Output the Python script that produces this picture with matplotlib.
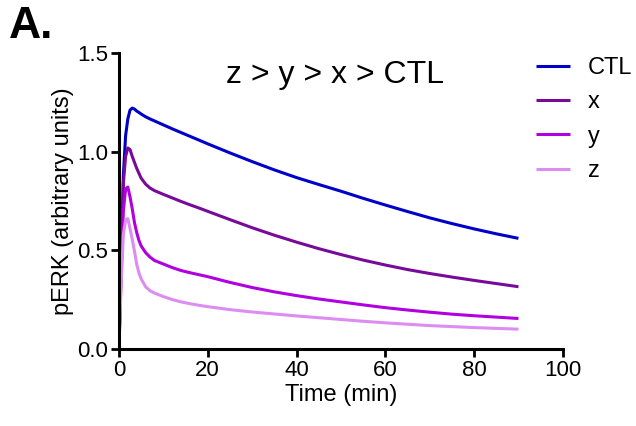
import matplotlib
matplotlib.use("Agg")
import matplotlib.pyplot as plt

plt.rcParams['font.family'] = ['Liberation Sans', 'DejaVu Sans']

time = [0, 0.5, 1, 1.5, 2, 2.5, 3, 3.5, 4, 4.5, 5, 6, 7, 8, 10, 12, 14, 16, 18, 20,
        25, 30, 35, 40, 45, 50, 55, 60, 65, 70, 75, 80, 85, 90]
ctl = [0, 0.45, 0.88, 1.08, 1.165, 1.21, 1.22, 1.215, 1.205, 1.198, 1.19, 1.176, 1.165,
       1.155, 1.135, 1.115, 1.096, 1.077, 1.058, 1.039,
       0.993, 0.949, 0.907, 0.868, 0.833, 0.799, 0.763, 0.729, 0.696, 0.664, 0.635, 0.608,
       0.583, 0.56]
x_vals = [0, 0.42, 0.84, 0.975, 1.018, 1.01, 0.975, 0.945, 0.915, 0.89, 0.865, 0.835,
          0.815, 0.802, 0.783, 0.765, 0.747, 0.73, 0.714, 0.697,
          0.655, 0.614, 0.576, 0.541, 0.508, 0.478, 0.45, 0.425, 0.402, 0.382, 0.364,
          0.347, 0.331, 0.315]
y_vals = [0, 0.38, 0.70, 0.81, 0.82, 0.77, 0.71, 0.64, 0.59, 0.55, 0.522, 0.488, 0.465,
          0.448, 0.43, 0.412, 0.397, 0.386, 0.376, 0.366,
          0.337, 0.311, 0.289, 0.27, 0.253, 0.238, 0.223, 0.209, 0.197, 0.186, 0.176,
          0.168, 0.161, 0.154]
z_vals = [0, 0.33, 0.58, 0.655, 0.66, 0.61, 0.555, 0.495, 0.43, 0.385, 0.355, 0.315,
          0.295, 0.283, 0.265, 0.25, 0.238, 0.229, 0.221, 0.214,
          0.199, 0.187, 0.177, 0.167, 0.158, 0.149, 0.14, 0.132, 0.125, 0.118, 0.113,
          0.108, 0.104, 0.10]

series = [("CTL", ctl, "#0000C8"), ("x", x_vals, "#780A9A"),
          ("y", y_vals, "#B000E0"), ("z", z_vals, "#DD8CF2")]

fig = plt.figure(figsize=(6.36, 4.26), dpi=100)
ax = fig.add_axes([0.187, 0.181, 0.698, 0.695])

for name, vals, col in series:
    ax.plot(time, vals, color=col, lw=2.2, label=name,
            solid_capstyle='butt', solid_joinstyle='round')

ax.set_xlim(0, 100)
ax.set_ylim(0, 1.5)
ax.set_xticks([0, 20, 40, 60, 80, 100])
ax.set_yticks([0, 0.5, 1.0, 1.5])
ax.set_yticklabels(["0.0", "0.5", "1.0", "1.5"])
for s in ["top", "right"]:
    ax.spines[s].set_visible(False)
for s in ["left", "bottom"]:
    ax.spines[s].set_linewidth(2.2)
ax.tick_params(width=2, length=6, labelsize=16, direction='out', pad=2)
ax.set_xlabel("Time (min)", fontsize=17, labelpad=2)
ax.set_ylabel("pERK (arbitrary units)", fontsize=17, labelpad=2)

ax.text(0.486, 0.926, "z > y > x > CTL", transform=ax.transAxes, fontsize=23,
        ha='center', va='center')

leg = ax.legend(loc='upper left', bbox_to_anchor=(0.843, 0.866),
                bbox_transform=fig.transFigure, frameon=False,
                fontsize=17, handlelength=1.44, labelspacing=0.52, handletextpad=0.76,
                borderpad=0, borderaxespad=0)

fig.text(0.014, 0.937, "A.", fontsize=32, fontweight='bold', va='center', ha='left')

fig.savefig("out.png", dpi=100)
